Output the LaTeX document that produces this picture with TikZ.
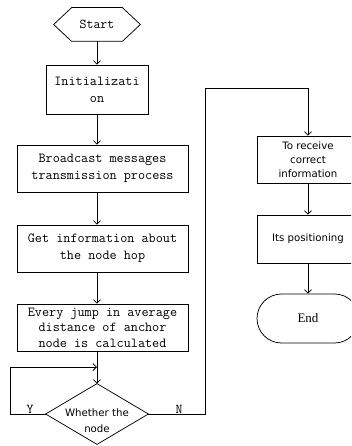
\documentclass[tikz,border=0pt]{standalone}
\usepackage{fontspec}
\setmainfont{Liberation Serif}
\newfontfamily\sansf{DejaVu Sans}
\usetikzlibrary{arrows.meta,shapes.misc,calc}
\newcommand\monof{\ttfamily}
\begin{document}
\begin{tikzpicture}[x=1pt,y=-1pt,
  line width=0.75pt,
  arr/.style={-{Straight Barb[length=3.5pt,width=7pt]}},
  mbox/.style={draw, inner sep=0pt, align=center, font=\monof\fontsize{13.8}{17}\selectfont},
  sbox/.style={draw, inner sep=0pt, align=center, font=\sansf\fontsize{10.2}{14}\selectfont},
  lbl/.style={inner sep=0.5pt, font=\monof\fontsize{13.5}{14}\selectfont},
]
\useasboundingbox (0,0) rectangle (351,446);
\clip (0,0) rectangle (351,446);
\coordinate (col) at (97,0);
% Start hexagon
\node[inner sep=0pt, minimum width=86pt, minimum height=33pt, font=\monof\fontsize{13.5}{17}\selectfont] (start) at (97,24.5) {Start};
\draw (start.west) -- ([xshift=18pt]start.north west) -- ([xshift=-18pt]start.north east)
  -- (start.east) -- ([xshift=-18pt]start.south east) -- ([xshift=18pt]start.south west) -- cycle;
% left column boxes
\node[mbox, minimum width=102pt, minimum height=49pt] (init) at (97,89.5) {Initializati\\on};
\node[mbox, minimum width=171pt, minimum height=47pt] (bc) at (102.5,168.5) {Broadcast messages\\transmission process};
\node[mbox, minimum width=171pt, minimum height=47pt] (get) at (102.5,248.5) {Get information about\\the node hop};
\node[mbox, minimum width=171pt, minimum height=47pt, font=\monof\fontsize{13.8}{15.5}\selectfont] (every) at (102.5,327.5) {Every jump in average\\distance of anchor\\node is calculated};
% decision diamond
\node[inner sep=0pt, minimum width=102pt, minimum height=60pt] (dec) at (97,414) {};
\draw (dec.north) -- (dec.east) -- (dec.south) -- (dec.west) -- cycle;
\node[inner sep=0pt, align=center, font=\sansf\fontsize{10.2}{16}\selectfont] (dectxt) at (97,421) {Whether the\\node};
% right column
\node[sbox, minimum width=102pt, minimum height=47pt] (recv) at (308,159.5) {To receive\\correct\\information};
\node[sbox, minimum width=102pt, minimum height=48pt] (pos) at (308,239) {Its positioning};
\node[draw, rounded rectangle, inner sep=0pt, minimum width=102pt, minimum height=49pt, font=\fontsize{13}{15}\selectfont] (end) at (308,318.5) {End};
% connectors
\draw[arr] (start.south) -- (init.north);
\draw[arr] (init.south) -- (bc.north -| col);
\draw[arr] (bc.south -| col) -- (get.north -| col);
\draw[arr] (get.south -| col) -- (every.north -| col);
\draw[arr] (every.south -| col) -- (dec.north);
\coordinate (lp) at (97,367);
\draw[arr] (dec.west) -- ++(-35,0) |- (lp);
\coordinate (ntop) at (205,88);
\draw[arr] (dec.east) -| (ntop) -| (recv.north);
\draw[arr] (recv.south) -- (pos.north);
\draw[arr] (pos.south) -- (end.north);
% labels
\node[lbl, anchor=south] (ylbl) at (30,414) {Y};
\node[lbl, anchor=south] (nlbl) at (179,414) {N};
\end{tikzpicture}
\end{document}
